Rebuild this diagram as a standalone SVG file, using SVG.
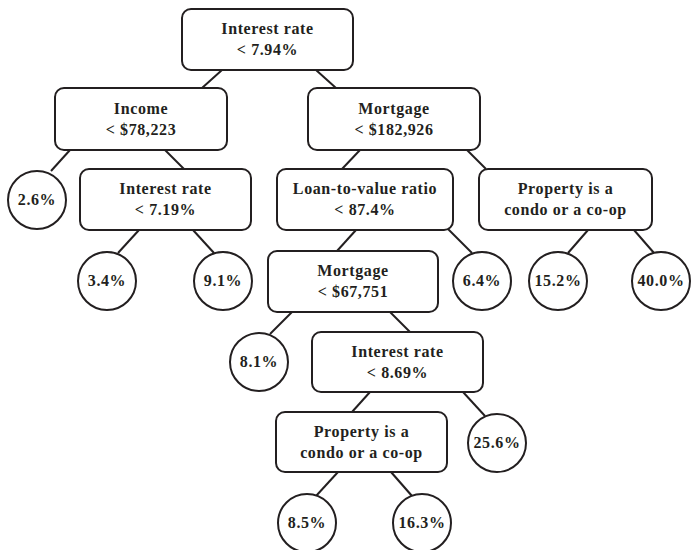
<svg xmlns="http://www.w3.org/2000/svg" width="691" height="550" viewBox="0 0 691 550">
<style>
.box{fill:#fff;stroke:#231f20;stroke-width:2}
.leaf{fill:#fff;stroke:#231f20;stroke-width:2}
.edge{stroke:#231f20;stroke-width:2;fill:none}
text{font-family:"Liberation Serif","DejaVu Serif",serif;font-weight:bold;font-size:16px;fill:#231f20;text-anchor:middle;letter-spacing:0.6px}
</style>
<rect width="691" height="550" fill="#fff"/>
<g id="connectors">
<line class="edge" x1="222" y1="70" x2="202" y2="88"/>
<line class="edge" x1="316" y1="70" x2="336" y2="88"/>
<line class="edge" x1="70" y1="150" x2="51" y2="171"/>
<line class="edge" x1="165" y1="150" x2="184" y2="169"/>
<line class="edge" x1="360" y1="150" x2="342" y2="169"/>
<line class="edge" x1="467" y1="150" x2="486" y2="169"/>
<line class="edge" x1="139" y1="230" x2="118" y2="253"/>
<line class="edge" x1="193" y1="230" x2="214" y2="253"/>
<line class="edge" x1="356" y1="230" x2="337" y2="251"/>
<line class="edge" x1="447" y1="228" x2="472" y2="253"/>
<line class="edge" x1="588" y1="230" x2="568" y2="253"/>
<line class="edge" x1="634" y1="230" x2="654" y2="253"/>
<line class="edge" x1="292" y1="312" x2="270" y2="334"/>
<line class="edge" x1="390" y1="312" x2="410" y2="332"/>
<line class="edge" x1="370" y1="392" x2="352" y2="412"/>
<line class="edge" x1="463" y1="392" x2="485" y2="416"/>
<line class="edge" x1="338" y1="472" x2="316" y2="496"/>
<line class="edge" x1="391" y1="472" x2="412" y2="496"/>
</g>
<g id="root"><rect class="box" x="182" y="9" width="171" height="61" rx="9"/><text x="267.5" y="34">Interest rate</text><text x="267.5" y="55">&lt; 7.94%</text></g>
<g id="income"><rect class="box" x="55" y="88" width="172" height="62" rx="9"/><text x="141" y="114">Income</text><text x="141" y="135">&lt; $78,223</text></g>
<g id="mortgage1"><rect class="box" x="308" y="88" width="172" height="62" rx="9"/><text x="394" y="114">Mortgage</text><text x="394" y="135">&lt; $182,926</text></g>
<g id="interest2"><rect class="box" x="80" y="169" width="171" height="61" rx="9"/><text x="165.5" y="194">Interest rate</text><text x="165.5" y="215">&lt; 7.19%</text></g>
<g id="ltv"><rect class="box" x="277" y="169" width="176" height="61" rx="9"/><text x="365" y="194">Loan-to-value ratio</text><text x="365" y="215">&lt; 87.4%</text></g>
<g id="property1"><rect class="box" x="479" y="169" width="173" height="61" rx="9"/><text x="565.5" y="194">Property is a</text><text x="565.5" y="215">condo or a co-op</text></g>
<g id="mortgage2"><rect class="box" x="268" y="251" width="170" height="61" rx="9"/><text x="353" y="276">Mortgage</text><text x="353" y="297">&lt; $67,751</text></g>
<g id="interest3"><rect class="box" x="312" y="332" width="171" height="60" rx="9"/><text x="397.5" y="357">Interest rate</text><text x="397.5" y="378">&lt; 8.69%</text></g>
<g id="property2"><rect class="box" x="276" y="412" width="171" height="60" rx="9"/><text x="361.5" y="437">Property is a</text><text x="361.5" y="458">condo or a co-op</text></g>
<g id="leaf-2.6"><circle class="leaf" cx="37" cy="200" r="29"/><text x="37" y="205">2.6%</text></g>
<g id="leaf-3.4"><circle class="leaf" cx="107" cy="281" r="29"/><text x="107" y="286">3.4%</text></g>
<g id="leaf-9.1"><circle class="leaf" cx="223" cy="281" r="29"/><text x="223" y="286">9.1%</text></g>
<g id="leaf-6.4"><circle class="leaf" cx="482" cy="281" r="29"/><text x="482" y="286">6.4%</text></g>
<g id="leaf-15.2"><circle class="leaf" cx="558" cy="281" r="29"/><text x="558" y="286">15.2%</text></g>
<g id="leaf-40.0"><circle class="leaf" cx="661" cy="281" r="29"/><text x="661" y="286">40.0%</text></g>
<g id="leaf-8.1"><circle class="leaf" cx="259" cy="362" r="29"/><text x="259" y="367">8.1%</text></g>
<g id="leaf-25.6"><circle class="leaf" cx="497" cy="443" r="29"/><text x="497" y="448">25.6%</text></g>
<g id="leaf-8.5"><circle class="leaf" cx="307" cy="523" r="29"/><text x="307" y="528">8.5%</text></g>
<g id="leaf-16.3"><circle class="leaf" cx="422" cy="523" r="29"/><text x="422" y="528">16.3%</text></g>
</svg>
